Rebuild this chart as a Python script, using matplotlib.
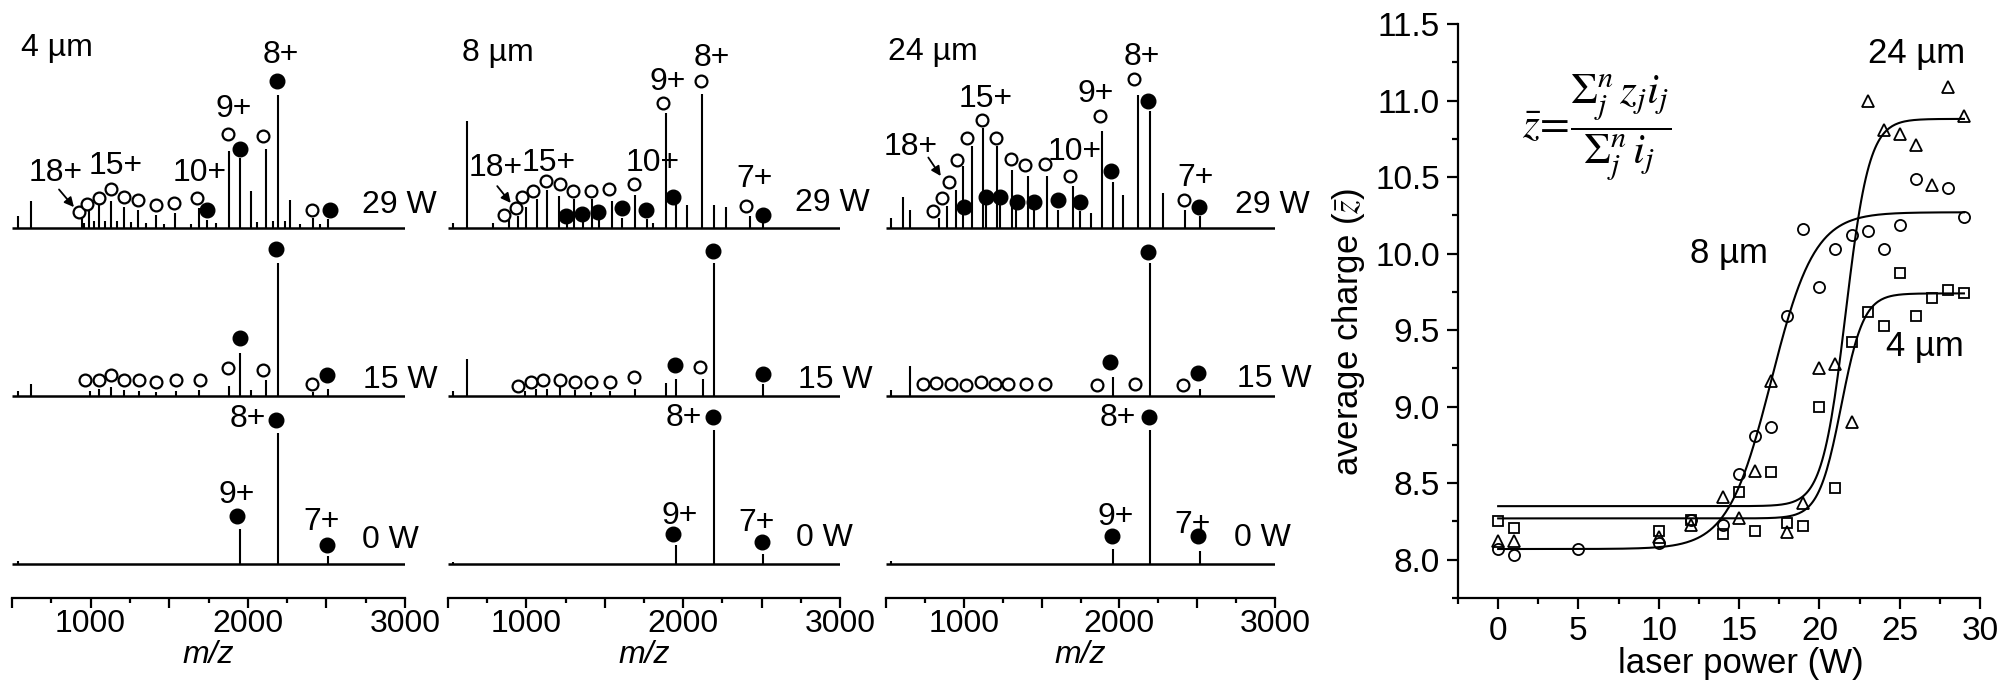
import numpy as np
import matplotlib
matplotlib.use('Agg')
import matplotlib.pyplot as plt
from matplotlib.ticker import MultipleLocator, FixedLocator, FuncFormatter

plt.rcParams['font.family'] = ['Liberation Sans', 'DejaVu Sans']
plt.rcParams['mathtext.fontset'] = 'stix'

sizes = ['4 µm', '8 µm', '24 µm']
powers = ['0 W', '15 W', '29 W']

# ---------------- spectra -----------------
# peaks: (m/z, relative height); markers: (m/z, height, filled?)
pk_4um_29W = [(540, 0.07), (621, 0.16), (943, 0.06), (992, 0.105), (1056, 0.15), (1130, 0.16),
              (1212, 0.125), (1304, 0.105), (1414, 0.08), (1537, 0.09), (1692, 0.12), (1738, 0.05),
              (1883, 0.46), (1950, 0.42), (2018, 0.22), (2116, 0.47), (2194, 0.79), (2268, 0.17),
              (2417, 0.06), (2512, 0.054), (960, 0.03), (1020, 0.04), (1090, 0.04), (1170, 0.04),
              (1255, 0.035), (1350, 0.03), (1470, 0.025), (1640, 0.025), (1800, 0.03), (2060, 0.035),
              (2160, 0.04), (2235, 0.04), (2330, 0.025), (2460, 0.025)]
mk_4um_29W = [(926, 0.095, 0), (979, 0.145, 0), (1053, 0.18, 0), (1130, 0.232, 0), (1212, 0.185, 0),
              (1304, 0.169, 0), (1416, 0.139, 0), (1533, 0.149, 0), (1675, 0.179, 0), (1738, 0.105, 1),
              (1872, 0.561, 0), (1950, 0.472, 1), (2099, 0.546, 0), (2188, 0.873, 1), (2410, 0.109, 0),
              (2523, 0.105, 1)]
pk_4um_15W = [(540, 0.03), (621, 0.075), (996, 0.032), (1056, 0.046), (1130, 0.056), (1212, 0.036),
              (1310, 0.032), (1416, 0.026), (1541, 0.032), (1692, 0.036), (1883, 0.06), (1950, 0.26),
              (2018, 0.036), (2116, 0.095), (2194, 0.79), (2417, 0.026), (2512, 0.046)]
mk_4um_15W = [(964, 0.095, 0), (1053, 0.095, 0), (1130, 0.125, 0), (1212, 0.095, 0), (1310, 0.099, 0),
              (1416, 0.085, 0), (1541, 0.099, 0), (1696, 0.099, 0), (1876, 0.171, 0), (1950, 0.349, 1),
              (2099, 0.155, 0), (2179, 0.875, 1), (2410, 0.071, 0), (2502, 0.125, 1)]
pk_4um_0W = [(540, 0.02), (1950, 0.21), (2194, 0.78), (2512, 0.048)]
mk_4um_0W = [(1929, 0.286, 1), (2179, 0.857, 1), (2506, 0.113, 1)]

pk_8um_29W = [(532, 0.03), (619, 0.64), (787, 0.03), (891, 0.046), (944, 0.075), (997, 0.125),
              (1066, 0.175), (1134, 0.224), (1210, 0.194), (1257, 0.036), (1306, 0.175), (1359, 0.036),
              (1416, 0.175), (1465, 0.046), (1544, 0.159), (1608, 0.06), (1693, 0.198), (1767, 0.056),
              (1808, 0.03), (1888, 0.685), (1954, 0.145), (2022, 0.139), (2118, 0.80), (2197, 0.135),
              (2273, 0.125), (2426, 0.075), (2507, 0.036)]
mk_8um_29W = [(859, 0.079, 0), (934, 0.121, 0), (974, 0.187, 0), (1044, 0.22, 0), (1123, 0.282, 0),
              (1214, 0.264, 0), (1299, 0.218, 0), (1412, 0.218, 0), (1529, 0.234, 0), (1686, 0.264, 0),
              (1873, 0.744, 0), (2114, 0.877, 0), (2399, 0.131, 0), (1253, 0.075, 1), (1357, 0.085, 1),
              (1459, 0.095, 1), (1608, 0.121, 1), (1763, 0.105, 1), (1937, 0.188, 1), (2507, 0.079, 1)]
pk_8um_15W = [(532, 0.03), (619, 0.224), (991, 0.032), (1061, 0.046), (1133, 0.046), (1214, 0.056),
              (1310, 0.036), (1412, 0.026), (1533, 0.032), (1693, 0.046), (1888, 0.079), (1954, 0.105),
              (2124, 0.105), (2197, 0.79), (2511, 0.075)]
mk_8um_15W = [(949, 0.062, 0), (1027, 0.085, 0), (1108, 0.095, 0), (1214, 0.095, 0), (1310, 0.085, 0),
              (1412, 0.085, 0), (1533, 0.085, 0), (1688, 0.115, 0), (2107, 0.175, 0), (1948, 0.188, 1),
              (2188, 0.863, 1), (2511, 0.135, 1)]
pk_8um_0W = [(532, 0.015), (1954, 0.113), (2197, 0.80), (2511, 0.063)]
mk_8um_0W = [(1933, 0.183, 1), (2188, 0.876, 1), (2505, 0.133, 1)]

pk_24um_29W = [(530, 0.06), (611, 0.188), (654, 0.109), (843, 0.06), (894, 0.129), (950, 0.228),
               (997, 0.367), (1051, 0.486), (1125, 0.595), (1144, 0.149), (1211, 0.486), (1234, 0.139),
               (1308, 0.347), (1337, 0.113), (1411, 0.311), (1448, 0.109), (1537, 0.308), (1605, 0.109),
               (1700, 0.248), (1744, 0.099), (1819, 0.093), (1886, 0.575), (1957, 0.272), (2025, 0.198),
               (2122, 0.794), (2197, 0.694), (2283, 0.208), (2422, 0.109), (2519, 0.073)]
mk_24um_29W = [(800, 0.099, 0), (862, 0.179, 0), (907, 0.274, 0), (954, 0.403, 0), (1023, 0.536, 0),
               (1115, 0.645, 0), (1207, 0.536, 0), (1301, 0.411, 0), (1393, 0.373, 0), (1522, 0.381, 0),
               (1683, 0.308, 0), (1875, 0.669, 0), (2094, 0.887, 0), (2415, 0.165, 0), (1001, 0.125, 1),
               (1143, 0.188, 1), (1233, 0.188, 1), (1340, 0.155, 1), (1451, 0.155, 1), (1604, 0.165, 1),
               (1747, 0.153, 1), (1944, 0.341, 1), (2186, 0.754, 1), (2512, 0.125, 1)]
pk_24um_15W = [(530, 0.036), (654, 0.179), (1957, 0.115), (2197, 0.79), (2518, 0.046)]
mk_24um_15W = [(740, 0.075, 0), (823, 0.081, 0), (915, 0.075, 0), (1016, 0.065, 0), (1112, 0.085, 0),
               (1198, 0.075, 0), (1283, 0.075, 0), (1401, 0.075, 0), (1525, 0.075, 0), (1858, 0.069, 0),
               (2102, 0.075, 0), (2408, 0.069, 0), (1940, 0.204, 1), (2186, 0.859, 1), (2507, 0.139, 1)]
pk_24um_0W = [(530, 0.02), (1957, 0.089), (2197, 0.80), (2518, 0.079)]
mk_24um_0W = [(1951, 0.169, 1), (2192, 0.875, 1), (2502, 0.169, 1)]

spectra = {
    '4 µm': [(pk_4um_0W, mk_4um_0W), (pk_4um_15W, mk_4um_15W), (pk_4um_29W, mk_4um_29W)],
    '8 µm': [(pk_8um_0W, mk_8um_0W), (pk_8um_15W, mk_8um_15W), (pk_8um_29W, mk_8um_29W)],
    '24 µm': [(pk_24um_0W, mk_24um_0W), (pk_24um_15W, mk_24um_15W), (pk_24um_29W, mk_24um_29W)],
}

# ---------------- average charge vs laser power -----------------
w_4um = [0, 1, 10, 12, 14, 15, 16, 17, 18, 19, 20, 21, 22, 23, 24, 25, 26, 27, 28, 29]
z_4um = [8.25, 8.21, 8.19, 8.26, 8.17, 8.44, 8.19, 8.57, 8.24, 8.22, 9.00, 8.47, 9.42, 9.62,
         9.53, 9.87, 9.59, 9.71, 9.76, 9.74]
w_8um = [0, 1, 5, 10, 12, 14, 15, 16, 17, 18, 19, 20, 21, 22, 23, 24, 25, 26, 28, 29]
z_8um = [8.07, 8.03, 8.07, 8.11, 8.26, 8.23, 8.56, 8.81, 8.87, 9.59, 10.16, 9.78, 10.03, 10.12,
         10.15, 10.03, 10.19, 10.49, 10.43, 10.24]
w_24um = [0, 1, 10, 12, 14, 15, 16, 17, 18, 19, 20, 21, 22, 23, 24, 25, 26, 27, 28, 29]
z_24um = [8.12, 8.12, 8.15, 8.23, 8.41, 8.27, 8.58, 9.17, 8.18, 8.37, 9.25, 9.28, 8.90, 11.00,
          10.81, 10.78, 10.71, 10.45, 11.09, 10.90]

# Boltzmann fit parameters (4, 8, 24 µm)
fit_A1 = [8.27, 8.07, 8.35]
fit_A2 = [9.74, 10.27, 10.88]
fit_x0 = [21.36, 17.0, 21.64]
fit_dx = [0.70, 1.35, 0.73]

FS = 23

fig = plt.figure(figsize=(20.1, 6.94), dpi=100)

# annotation placement per panel: (text, m/z, y, ha)
ann = {
    '4 µm': [('4 µm', 557, 3.07, 'left'), ('8+', 2211, 3.03, 'center'), ('9+', 1912, 2.71, 'center'),
             ('10+', 1696, 2.33, 'center'), ('15+', 1162, 2.37, 'center'), ('18+', 780, 2.33, 'center'),
             ('29 W', 2726, 2.14, 'left'), ('15 W', 2733, 1.095, 'left'), ('8+', 2001, 0.863, 'center'),
             ('9+', 1931, 0.41, 'center'), ('7+', 2472, 0.25, 'center'), ('0 W', 2726, 0.143, 'left')],
    '8 µm': [('8 µm', 587, 3.04, 'left'), ('9+', 1903, 2.87, 'center'), ('8+', 2182, 3.01, 'center'),
             ('18+', 804, 2.36, 'center'), ('15+', 1144, 2.39, 'center'), ('10+', 1808, 2.39, 'center'),
             ('7+', 2458, 2.29, 'center'), ('29 W', 2713, 2.15, 'left'), ('15 W', 2734, 1.095, 'left'),
             ('8+', 2005, 0.87, 'center'), ('9+', 1980, 0.29, 'center'), ('7+', 2469, 0.245, 'center'),
             ('0 W', 2720, 0.155, 'left')],
    '24 µm': [('24 µm', 515, 3.05, 'left'), ('15+', 1141, 2.77, 'center'), ('18+', 659, 2.48, 'center'),
              ('10+', 1715, 2.45, 'center'), ('9+', 1850, 2.80, 'center'), ('8+', 2143, 3.02, 'center'),
              ('7+', 2492, 2.30, 'center'), ('29 W', 2743, 2.14, 'left'), ('15 W', 2754, 1.10, 'left'),
              ('8+', 1993, 0.87, 'center'), ('9+', 1976, 0.28, 'center'), ('7+', 2471, 0.232, 'center'),
              ('0 W', 2737, 0.155, 'left')],
}
arrows = {'4 µm': ((799, 2.23), (894, 2.125)),
          '8 µm': ((814, 2.25), (900, 2.15)),
          '24 µm': ((772, 2.42), (852, 2.31))}

lefts = [12, 448, 886]
widths = [393, 392, 389]
W, H = 2010, 694

for size, lpx, wpx in zip(sizes, lefts, widths):
    ax = fig.add_axes([lpx / W, 96 / H, wpx / W, 598 / H])
    for k, (pk, mk) in enumerate(spectra[size]):
        ax.hlines(k, 500, 3000, color='k', lw=1.8)
        ax.vlines([p[0] for p in pk], k, [k + p[1] for p in pk], color='k', lw=1.5)
        opn = [m for m in mk if not m[2]]
        fil = [m for m in mk if m[2]]
        ax.plot([m[0] for m in opn], [k + m[1] for m in opn], 'o', ms=8.5, mfc='white',
                mec='k', mew=1.6, ls='none')
        ax.plot([m[0] for m in fil], [k + m[1] for m in fil], 'o', ms=10.5, color='k', ls='none')
    for txt, x, y, ha in ann[size]:
        ax.text(x, y, txt, fontsize=FS, ha=ha, va='center')
    a0, a1 = arrows[size]
    ax.annotate('', xy=a1, xytext=a0,
                arrowprops=dict(arrowstyle='-|>', lw=1.3, color='k', mutation_scale=14,
                                shrinkA=0, shrinkB=0))
    ax.set_xlim(500, 3000)
    ax.set_ylim(-0.2, 3.357)
    for s in ['left', 'right', 'top']:
        ax.spines[s].set_visible(False)
    ax.spines['bottom'].set_linewidth(1.6)
    ax.set_yticks([])
    ax.xaxis.set_major_locator(FixedLocator([500, 1000, 1500, 2000, 2500, 3000]))
    ax.xaxis.set_minor_locator(FixedLocator([750, 1250, 1750, 2250, 2750]))
    ax.xaxis.set_major_formatter(FuncFormatter(lambda v, p: '%d' % v if v % 1000 == 0 else ''))
    ax.tick_params(axis='x', which='major', length=7, width=1.6, labelsize=FS, pad=1)
    ax.tick_params(axis='x', which='minor', length=3.5, width=1.6)
    ax.set_xlabel('m/z', fontsize=FS, fontstyle='italic')
    ax.xaxis.set_label_coords(0.5, -0.07)
    ax.patch.set_alpha(0)

# ---------------- right panel -----------------
ax = fig.add_axes([1458 / W, 96 / H, 522 / W, 574 / H])
xx = np.linspace(0, 29, 300)
for A1, A2, x0, dx in zip(fit_A1, fit_A2, fit_x0, fit_dx):
    ax.plot(xx, A2 + (A1 - A2) / (1 + np.exp((xx - x0) / dx)), color='k', lw=1.5)
ax.plot(w_4um, z_4um, 's', ms=7.5, mfc='none', mec='k', mew=1.3, ls='none')
ax.plot(w_8um, z_8um, 'o', ms=8, mfc='none', mec='k', mew=1.3, ls='none')
ax.plot(w_24um, z_24um, '^', ms=8.5, mfc='none', mec='k', mew=1.3, ls='none')

ax.text(23.0, 11.31, '24 µm', fontsize=25, ha='left', va='center')
ax.text(11.95, 10.0, '8 µm', fontsize=25, ha='left', va='center')
ax.text(24.15, 9.39, '4 µm', fontsize=25, ha='left', va='center')
ax.text(1.5, 10.82, r'$\bar{z}\!=\!\dfrac{\Sigma_j^n\,z_j i_j}{\Sigma_j^n\,i_j}$', fontsize=31,
        ha='left', va='center')

ax.set_xlim(-2.5, 30)
ax.set_ylim(7.75, 11.5)
for s in ['right', 'top']:
    ax.spines[s].set_visible(False)
for s in ['left', 'bottom']:
    ax.spines[s].set_linewidth(1.6)
ax.xaxis.set_major_locator(MultipleLocator(5))
ax.xaxis.set_minor_locator(MultipleLocator(2.5))
ax.yaxis.set_major_locator(FixedLocator([8.0, 8.5, 9.0, 9.5, 10.0, 10.5, 11.0, 11.5]))
ax.yaxis.set_minor_locator(MultipleLocator(0.25))
ax.yaxis.set_major_formatter(FuncFormatter(lambda v, p: '%.1f' % v))
ax.tick_params(which='major', length=8, width=1.6, labelsize=24, pad=5)
ax.tick_params(which='minor', length=4, width=1.6)
ax.set_xlabel('laser power (W)', fontsize=25)
ax.set_ylabel(r'average charge ($\bar{z}$)', fontsize=25)
ax.xaxis.set_label_coords(0.542, -0.085)
ax.yaxis.set_label_coords(-0.175, 0.463)
ax.patch.set_alpha(0)

fig.savefig('out.png', dpi=100)
